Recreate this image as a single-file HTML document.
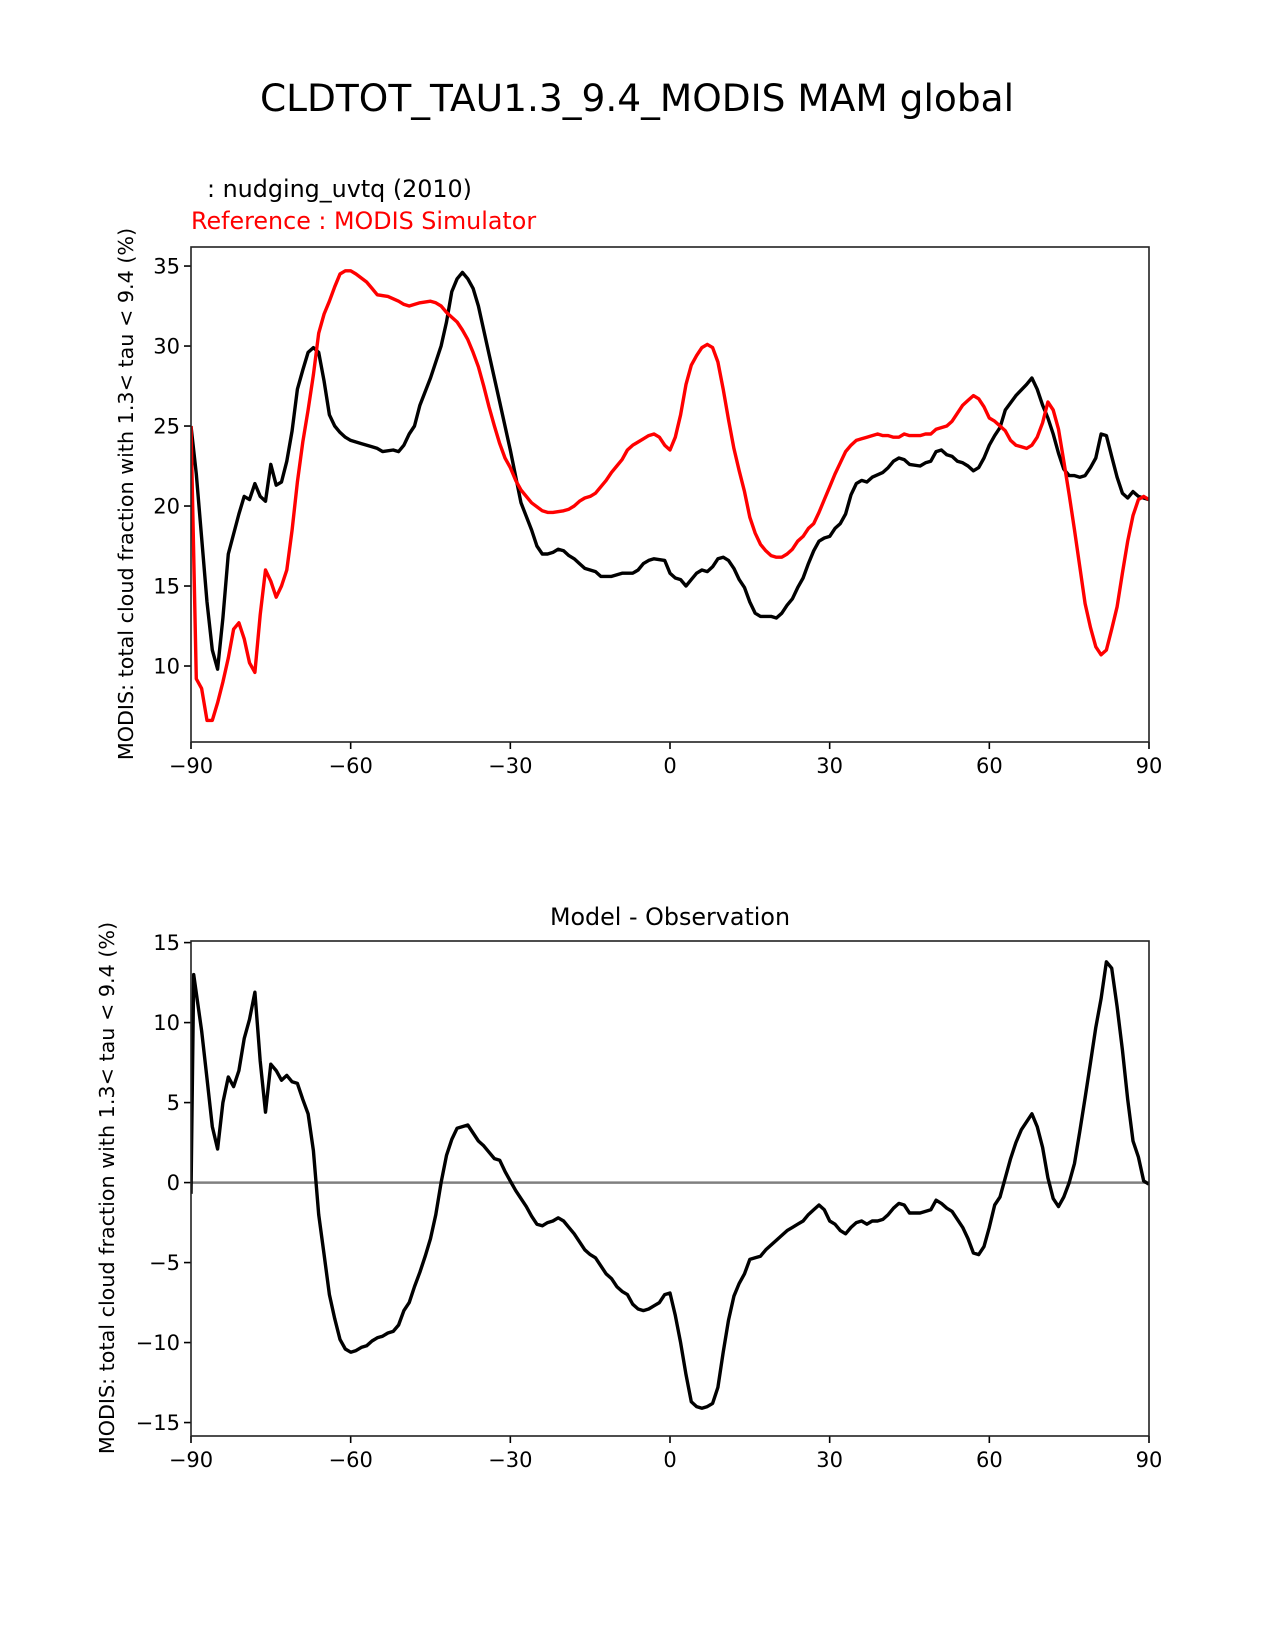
<!DOCTYPE html>
<html><head><meta charset="utf-8"><style>
body{margin:0;background:#fff}
svg{display:block;font-family:"DejaVu Sans","Liberation Sans",sans-serif}
</style></head><body>
<svg width="1275" height="1650" viewBox="0 0 1275 1650" id="fig">
<text x="637" y="111" font-size="37.5" text-anchor="middle">CLDTOT_TAU1.3_9.4_MODIS MAM global</text>
<text x="207" y="197" font-size="23.8">: nudging_uvtq (2010)</text>
<text x="191" y="229" font-size="23.8" fill="#ff0000">Reference : MODIS Simulator</text>
<text x="670" y="925" font-size="23.8" text-anchor="middle">Model - Observation</text>
<text transform="translate(133,494) rotate(-90)" font-size="20.7" text-anchor="middle">MODIS: total cloud fraction with 1.3&lt; tau &lt; 9.4 (%)</text>
<text transform="translate(114,1188) rotate(-90)" font-size="20.7" text-anchor="middle">MODIS: total cloud fraction with 1.3&lt; tau &lt; 9.4 (%)</text>
<g id="top"></g>
<g id="bot"></g>
</svg>
<script>
const testLat=[-90,-89,-87,-86,-85,-84,-83,-81,-80,-79,-78,-77,-76,-75,-74,-73,-72,-71,-70,-69,-68,-67,-66,-65,-64,-63,-62,-61,-60,-58,-56,-55,-54,-52,-51,-50,-49,-48,-47,-45,-43,-42,-41,-40,-39,-38,-37,-36,-35,-34,-32,-30,-28,-26,-25,-24,-23,-22,-21,-20,-19,-18,-17,-16,-14,-13,-11,-9,-8,-7,-6,-5,-4,-3,-1,0,1,2,3,4,5,6,7,8,9,10,11,12,13,14,15,16,17,18,19,20,21,22,23,24,25,26,27,28,29,30,31,32,33,34,35,36,37,38,40,41,42,43,44,45,47,48,49,50,51,52,53,54,55,56,57,58,59,60,61,62,63,65,67,68,69,70,71,72,73,74,75,76,77,78,79,80,81,82,83,84,85,86,87,88,90];
const testVal=[25,22,14,11,9.8,13,17,19.5,20.6,20.4,21.4,20.6,20.3,22.6,21.3,21.5,22.8,24.7,27.3,28.5,29.6,29.9,29.6,27.8,25.7,25,24.6,24.3,24.1,23.9,23.7,23.6,23.4,23.5,23.4,23.8,24.5,25,26.3,28,30,31.5,33.4,34.2,34.6,34.2,33.6,32.5,31,29.5,26.5,23.5,20.2,18.5,17.5,17,17,17.1,17.3,17.2,16.9,16.7,16.4,16.1,15.9,15.6,15.6,15.8,15.8,15.8,16,16.4,16.6,16.7,16.6,15.8,15.5,15.4,15,15.4,15.8,16.0,15.9,16.2,16.7,16.8,16.6,16.1,15.4,14.9,14,13.3,13.1,13.1,13.1,13,13.3,13.8,14.2,14.9,15.5,16.4,17.2,17.8,18,18.1,18.6,18.9,19.5,20.7,21.4,21.6,21.5,21.8,22.1,22.4,22.8,23,22.9,22.6,22.5,22.7,22.8,23.4,23.5,23.2,23.1,22.8,22.7,22.5,22.2,22.4,23,23.8,24.4,24.9,26,26.9,27.6,28,27.3,26.3,25.5,24.5,23.3,22.3,21.9,21.9,21.8,21.9,22.4,23,24.5,24.4,23.1,21.8,20.8,20.5,20.9,20.6,20.4];
const refLat=[-90,-89,-88,-87,-86,-85,-84,-83,-82,-81,-80,-79,-78,-77,-76,-75,-74,-73,-72,-71,-70,-69,-68,-67,-66,-65,-64,-63,-62,-61,-60,-59,-57,-56,-55,-53,-51,-50,-49,-48,-47,-45,-44,-43,-42,-41,-40,-39,-38,-37,-36,-35,-34,-33,-32,-31,-30,-29,-28,-26,-24,-23,-22,-20,-19,-18,-17,-16,-15,-14,-13,-12,-11,-10,-9,-8,-7,-6,-5,-4,-3,-2,-1,0,1,2,3,4,5,6,7,8,9,10,11,12,13,14,15,16,17,18,19,20,21,22,23,24,25,26,27,28,29,30,31,32,33,34,35,36,37,38,39,40,41,42,43,44,45,46,47,48,49,50,51,52,53,54,55,56,57,58,59,60,61,62,63,64,65,66,67,68,69,70,71,72,73,74,75,76,77,78,79,80,81,82,83,84,85,86,87,88,89,90];
const refVal=[25,9.2,8.6,6.6,6.6,7.7,9,10.5,12.3,12.7,11.7,10.2,9.6,13.2,16,15.3,14.3,15,16,18.5,21.5,24,26,28.2,30.8,32,32.8,33.7,34.5,34.7,34.7,34.5,34.0,33.6,33.2,33.1,32.8,32.6,32.5,32.6,32.7,32.8,32.7,32.5,32.1,31.8,31.5,31,30.4,29.6,28.7,27.5,26.2,25,23.9,23,22.4,21.6,21,20.2,19.7,19.6,19.6,19.7,19.8,20,20.3,20.5,20.6,20.8,21.2,21.6,22.1,22.5,22.9,23.5,23.8,24,24.2,24.4,24.5,24.3,23.8,23.5,24.3,25.7,27.6,28.8,29.4,29.9,30.1,29.9,29,27.3,25.4,23.6,22.2,20.9,19.3,18.3,17.6,17.2,16.9,16.8,16.8,17,17.3,17.8,18.1,18.6,18.9,19.6,20.4,21.2,22,22.7,23.4,23.8,24.1,24.2,24.3,24.4,24.5,24.4,24.4,24.3,24.3,24.5,24.4,24.4,24.4,24.5,24.5,24.8,24.9,25,25.3,25.8,26.3,26.6,26.9,26.7,26.2,25.5,25.3,25,24.7,24.1,23.8,23.7,23.6,23.8,24.3,25.2,26.5,26,24.8,22.8,20.7,18.5,16.2,13.9,12.4,11.2,10.7,11,12.3,13.7,15.8,17.8,19.4,20.4,20.6,20.4];
const diffLat=[-90,-89.5,-88,-87,-86,-85,-84,-83,-82,-81,-80,-79,-78,-77,-76,-75,-74,-73,-72,-71,-70,-69,-68,-67,-66,-65,-64,-63,-62,-61,-60,-59,-58,-57,-56,-55,-54,-53,-52,-51,-50,-49,-48,-47,-46,-45,-44,-43,-42,-41,-40,-38,-37,-36,-35,-34,-33,-32,-31,-30,-29,-28,-27,-26,-25,-24,-23,-22,-21,-20,-19,-18,-17,-16,-15,-14,-13,-12,-11,-10,-9,-8,-7,-6,-5,-4,-3,-2,-1,0,1,2,3,4,5,6,7,8,9,10,11,12,13,14,15,16,17,18,19,20,21,22,23,24,25,26,27,28,29,30,31,32,33,34,35,36,37,38,39,40,41,42,43,44,45,46,47,48,49,50,51,52,53,54,55,56,57,58,59,60,61,62,63,64,65,66,67,68,69,70,71,72,73,74,75,76,77,78,79,80,81,82,83,84,85,86,87,88,89,90];
const diffVal=[-0.7,13,9.5,6.5,3.5,2.1,5,6.6,6,7,9,10.2,11.9,7.6,4.4,7.4,7,6.4,6.7,6.3,6.2,5.2,4.3,2,-2,-4.5,-7,-8.5,-9.8,-10.4,-10.6,-10.5,-10.3,-10.2,-9.9,-9.7,-9.6,-9.4,-9.3,-8.9,-8,-7.5,-6.5,-5.6,-4.6,-3.5,-2,0,1.7,2.7,3.4,3.6,3.1,2.6,2.3,1.9,1.5,1.4,0.7,0.1,-0.5,-1,-1.5,-2.1,-2.6,-2.7,-2.5,-2.4,-2.2,-2.4,-2.8,-3.2,-3.7,-4.2,-4.5,-4.7,-5.2,-5.7,-6.0,-6.5,-6.8,-7.0,-7.6,-7.9,-8.0,-7.9,-7.7,-7.5,-7,-6.9,-8.3,-10,-12,-13.7,-14,-14.1,-14,-13.8,-12.8,-10.6,-8.6,-7.1,-6.3,-5.7,-4.8,-4.7,-4.6,-4.2,-3.9,-3.6,-3.3,-3,-2.8,-2.6,-2.4,-2,-1.7,-1.4,-1.7,-2.4,-2.6,-3,-3.2,-2.8,-2.5,-2.4,-2.6,-2.4,-2.4,-2.3,-2.0,-1.6,-1.3,-1.4,-1.9,-1.9,-1.9,-1.8,-1.7,-1.1,-1.3,-1.6,-1.8,-2.3,-2.8,-3.5,-4.4,-4.5,-4,-2.8,-1.4,-0.9,0.3,1.5,2.5,3.3,3.8,4.3,3.5,2.2,0.3,-1,-1.5,-0.9,0,1.2,3.2,5.3,7.5,9.7,11.5,13.8,13.4,11,8.3,5.2,2.6,1.6,0.1,-0.1];
const xTicks=[-90,-60,-30,0,30,60,90];
const topYTicks=[10,15,20,25,30,35];
const botYTicks=[-15,-10,-5,0,5,10,15];

const NS='http://www.w3.org/2000/svg';
function mk(tag,attrs,parent){const e=document.createElementNS(NS,tag);for(const k in attrs)e.setAttribute(k,attrs[k]);parent.appendChild(e);return e;}
const X0=191,X1=1149;
const xs=v=>X0+(v+90)/180*(X1-X0);
function panel(g,top,bot,ymin,ymax,yt,name){
  const ys=v=>bot-(v-ymin)/(ymax-ymin)*(bot-top);
  yt.forEach(t=>{
    const y=ys(t);
    const l=mk('line',{x1:X0-7,x2:X0,y1:y,y2:y,stroke:'#000','stroke-width':1.6},g);
    
    
    const tx=mk('text',{x:X0-11,y:y+7.5,'font-size':21,'text-anchor':'end'},g);
    tx.textContent=(t<0?'\u2212':'')+Math.abs(t);
    
    
  });
  xTicks.forEach(t=>{
    const x=xs(t);
    const l=mk('line',{x1:x,x2:x,y1:bot,y2:bot+7,stroke:'#000','stroke-width':1.6},g);
    
    
    const tx=mk('text',{x:x,y:bot+31,'font-size':21,'text-anchor':'middle'},g);
    tx.textContent=(t<0?'\u2212':'')+Math.abs(t);
    
    
  });
  return ys;
}
function line(g,lat,val,ys,color,nm){
  const d=lat.map((v,i)=>(i?'L':'M')+xs(v).toFixed(1)+','+ys(val[i]).toFixed(1)).join('');
  const p=mk('path',{d:d,fill:'none',stroke:color,'stroke-width':3.4,'stroke-linejoin':'round'},g);
  
  
}
const gt=document.getElementById('top');
const ysT=panel(gt,247,742,5.25,36.19,topYTicks,'top');
const cpT=mk('clipPath',{id:'cpt'},gt);mk('rect',{x:X0,y:247,width:X1-X0,height:495},cpT);
const lt=mk('g',{'clip-path':'url(#cpt)'},gt);
line(lt,testLat,testVal,ysT,'#000','test-series-line');
line(lt,refLat,refVal,ysT,'#ff0000','reference-series-line');
const bt=mk('rect',{x:X0,y:247,width:X1-X0,height:495,fill:'none',stroke:'#222','stroke-width':1.6},gt);



const gb=document.getElementById('bot');
const ysB=panel(gb,941,1436,-15.84,15.1,botYTicks,'bottom');
const cpB=mk('clipPath',{id:'cpb'},gb);mk('rect',{x:X0,y:941,width:X1-X0,height:495},cpB);
const lb=mk('g',{'clip-path':'url(#cpb)'},gb);
const z=mk('line',{x1:X0,x2:X1,y1:ysB(0),y2:ysB(0),stroke:'#808080','stroke-width':2.5},lb);


line(lb,diffLat,diffVal,ysB,'#000','difference-series-line');
const bb=mk('rect',{x:X0,y:941,width:X1-X0,height:495,fill:'none',stroke:'#222','stroke-width':1.6},gb);


</script>
</body></html>
